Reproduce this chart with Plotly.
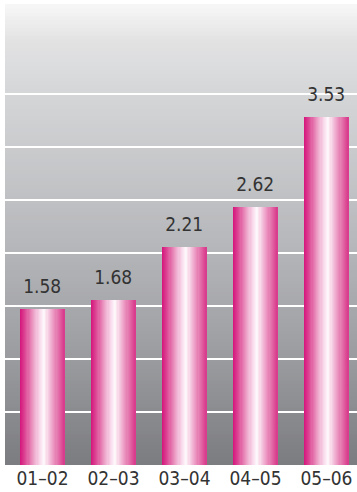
import plotly.graph_objects as go

# ---- data ----
categories = ["01–02", "02–03", "03–04", "04–05", "05–06"]
values = [1.58, 1.68, 2.21, 2.62, 3.53]
value_labels = ["1.58", "1.68", "2.21", "2.62", "3.53"]

# ---- style helpers ----
def hex2rgb(h):
    h = h.lstrip("#")
    return tuple(int(h[i:i + 2], 16) for i in (0, 2, 4))

def interp(stops, t):
    for (t0, c0), (t1, c1) in zip(stops[:-1], stops[1:]):
        if t0 <= t <= t1:
            f = 0 if t1 == t0 else (t - t0) / (t1 - t0)
            a, b = hex2rgb(c0), hex2rgb(c1)
            return "rgb(%d,%d,%d)" % tuple(round(a[i] + (b[i] - a[i]) * f) for i in range(3))
    return stops[-1][1]

bar_stops = [(0.0, "#d5147c"), (0.12, "#dc4593"), (0.3, "#eb9cc4"), (0.45, "#f9dced"),
             (0.55, "#fefafc"), (0.65, "#f4c6de"), (0.8, "#e887b8"), (1.0, "#d8388a")]
bg_stops = [(0.0, "#7b7c80"), (0.25, "#9d9ea1"), (0.5, "#b8b9bc"), (0.8, "#d4d5d7"),
            (0.92, "#e2e2e3"), (1.0, "#f7f7f7")]

FONT = "DejaVu Sans, sans-serif"
BAR_W = 0.63
N = 40
fig = go.Figure()

fig.add_trace(go.Bar(x=categories, y=values, width=BAR_W, marker=dict(color="#e07ab0", line_width=0),
                     hoverinfo="skip", showlegend=False))
sw = BAR_W / N
for k in range(N):
    t = (k + 0.5) / N
    w = sw * 1.15 if k < N - 1 else sw
    fig.add_trace(go.Bar(x=categories, y=values, width=w, offset=-BAR_W / 2 + k * sw,
                         marker=dict(color=interp(bar_stops, t), line_width=0),
                         hoverinfo="skip", showlegend=False))

for c, v, lab in zip(categories, values, value_labels):
    fig.add_annotation(x=c, y=v, text=lab, showarrow=False, yshift=23,
                       font=dict(family=FONT, size=19, color="#333333"))

shapes = []
M = 120
for j in range(M):
    t = (j + 0.5) / M
    shapes.append(dict(type="rect", xref="paper", yref="paper", x0=0, x1=1,
                       y0=j / M, y1=(j + 1) / M + 0.002, fillcolor=interp(bg_stops, t),
                       line_width=0, layer="below"))

grid_step = 0.538
fig.update_layout(
    width=357, height=492,
    margin=dict(l=5, r=0, t=5, b=27),
    barmode="overlay", bargap=0,
    paper_bgcolor="white", plot_bgcolor="white",
    shapes=shapes,
    showlegend=False,
    xaxis=dict(type="category", range=[-0.528, 4.43], showgrid=False, zeroline=False,
               showline=False, ticks="", automargin=False,
               tickfont=dict(family=FONT, size=19, color="#333333")),
    yaxis=dict(range=[0, 4.67], tickmode="array", automargin=False,
               tickvals=[grid_step * k for k in range(1, 8)], showticklabels=False,
               showgrid=True, gridcolor="white", gridwidth=1.5, zeroline=False, showline=False),
)

post = """
var st = document.createElement('style');
st.textContent = 'svg text { font-stretch: condensed !important; }';
document.head.appendChild(st);
"""
fig.write_html("out.html", post_script=post)
